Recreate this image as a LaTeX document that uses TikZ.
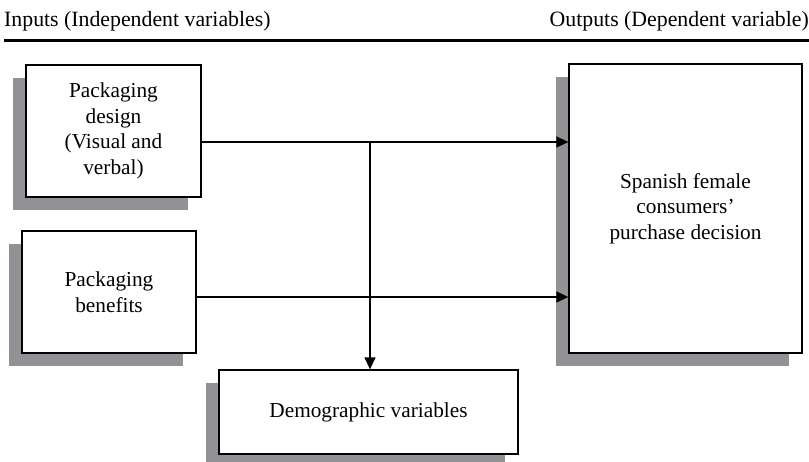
\documentclass[tikz,border=0pt]{standalone}
\usepackage{fontspec}
\setmainfont{Liberation Serif}
\usetikzlibrary{arrows.meta,shadows}
\definecolor{shadowgray}{RGB}{146,146,150}
\begin{document}
\begin{tikzpicture}[x=1pt,y=-1pt,
		varbox/.style={draw, line width=1.3pt, fill=white, align=center, inner sep=0pt,
			font=\fontsize{21.3}{25.5}\selectfont,
			drop shadow={shadow xshift=-13.5pt, shadow yshift=-12.5pt, fill=shadowgray, opacity=1}},
		link/.style={line width=1.3pt, -{Triangle[length=12pt,width=11pt]}}]
		\useasboundingbox (0,0) rectangle (809,461);
		% header
		\node [anchor=west, font=\fontsize{21.8}{25}\selectfont, inner sep=0pt] (inputs) at (4,21) {Inputs (Independent variables)};
		\node [anchor=east, font=\fontsize{21.8}{25}\selectfont, inner sep=0pt] (outputs) at (809,21) {Outputs (Dependent variable)};
		\draw [line width=3pt] (4,40) -- (809,40);
		% boxes
		\node [varbox, minimum width=175, minimum height=132] (design) at (113.5,131) {Packaging\\design\\(Visual and\\verbal)};
		\node [varbox, minimum width=174, minimum height=122] (benefits) at (109,292) {Packaging\\benefits};
		\node [varbox, minimum width=233, minimum height=289] (decision) at (685.5,208.5) {Spanish female\\consumers'\\purchase decision};
		\node [varbox, minimum width=299, minimum height=84] (demo) at (368.5,412) {Demographic variables};
		% connectors
		\coordinate (upper) at (370,142);
		\coordinate (lower) at (370,297);
		\draw [link] (design.east |- upper) -- (decision.west |- upper);
		\draw [link] (benefits.east |- lower) -- (decision.west |- lower);
		\draw [link] (upper) -- (upper |- demo.north);
\end{tikzpicture}
\end{document}
